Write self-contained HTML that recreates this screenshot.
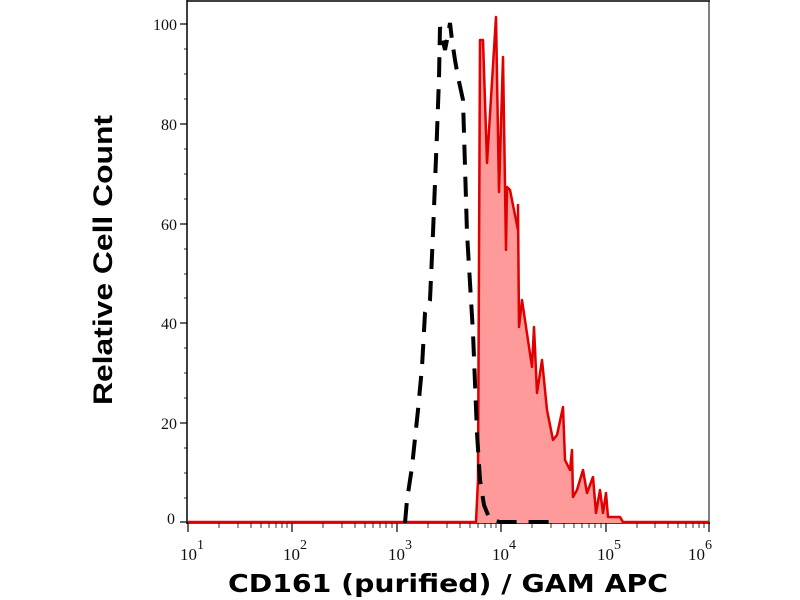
<!DOCTYPE html>
<html><head><meta charset="utf-8"><style>html,body{margin:0;padding:0;background:#fff;}svg{display:block}</style></head>
<body>
<svg width="800" height="600" viewBox="0 0 800 600" xmlns="http://www.w3.org/2000/svg">
<rect width="800" height="600" fill="#fff"/>
<line x1="187" y1="1" x2="710" y2="1" stroke="#000" stroke-width="1.5"/>
<line x1="709" y1="1" x2="709" y2="524" stroke="#000" stroke-width="1"/>
<line x1="187" y1="0" x2="187" y2="524" stroke="#000" stroke-width="1.5"/>
<line x1="187" y1="523" x2="710" y2="523" stroke="#000" stroke-width="1.5"/>
<g stroke="#000" stroke-width="1.2">
<line x1="180" y1="24" x2="187" y2="24"/><line x1="180" y1="124" x2="187" y2="124"/><line x1="180" y1="224" x2="187" y2="224"/><line x1="180" y1="323" x2="187" y2="323"/><line x1="180" y1="423" x2="187" y2="423"/><line x1="180" y1="522" x2="187" y2="522"/>
</g>
<g stroke="#000" stroke-width="0.8">
<line x1="184" y1="49" x2="187" y2="49"/><line x1="184" y1="74" x2="187" y2="74"/><line x1="184" y1="99" x2="187" y2="99"/>
<line x1="184" y1="149" x2="187" y2="149"/><line x1="184" y1="174" x2="187" y2="174"/><line x1="184" y1="199" x2="187" y2="199"/>
<line x1="184" y1="249" x2="187" y2="249"/><line x1="184" y1="274" x2="187" y2="274"/><line x1="184" y1="298" x2="187" y2="298"/>
<line x1="184" y1="348" x2="187" y2="348"/><line x1="184" y1="373" x2="187" y2="373"/><line x1="184" y1="398" x2="187" y2="398"/>
<line x1="184" y1="448" x2="187" y2="448"/><line x1="184" y1="473" x2="187" y2="473"/><line x1="184" y1="498" x2="187" y2="498"/>
</g>
<g font-family="Liberation Serif, serif" font-size="16" text-anchor="end" fill="#111">
<text x="177" y="30">100</text><text x="177" y="130">80</text><text x="177" y="230">60</text><text x="177" y="329">40</text><text x="177" y="429">20</text><text x="175" y="524">0</text>
</g>
<g stroke="#000" stroke-width="1.2">
<line x1="188" y1="523" x2="188" y2="532"/><line x1="292" y1="523" x2="292" y2="532"/><line x1="397" y1="523" x2="397" y2="532"/><line x1="501" y1="523" x2="501" y2="532"/><line x1="606" y1="523" x2="606" y2="532"/><line x1="709" y1="523" x2="709" y2="532"/>
</g>
<g font-family="Liberation Serif, serif" font-size="17" fill="#111">
<text x="180" y="560">10</text><text x="197" y="549" font-size="14">1</text>
<text x="283" y="560">10</text><text x="300" y="549" font-size="14">2</text>
<text x="388" y="560">10</text><text x="405" y="549" font-size="14">3</text>
<text x="492" y="560">10</text><text x="509" y="549" font-size="14">4</text>
<text x="597" y="560">10</text><text x="614" y="549" font-size="14">5</text>
<text x="688" y="560">10</text><text x="705" y="549" font-size="14">6</text>
</g>
<polygon fill="#ff9a9a" stroke="none" points="476,523 478,480 480,40 483,40 487,163 496,17 499,192 503,57 506,250 507,187 510,190 518,230 518,205 519,327 522,300 532,367 534,327 537,393 542,360 547,410 553,440 557,435 563,407 565,460 570,470 572,450 573,497 577,490 583,470 587,493 593,477 596,513 600,490 603,513 606,493 608,517 620,517 623,523"/>
<polyline fill="none" stroke="#e00000" stroke-width="2.5" stroke-linejoin="round" points="188,522 476,522 478,480 480,40 483,40 487,163 496,17 499,192 503,57 506,250 507,187 510,190 518,230 518,205 519,327 522,300 532,367 534,327 537,393 542,360 547,410 553,440 557,435 563,407 565,460 570,470 572,450 573,497 577,490 583,470 587,493 593,477 596,513 600,490 603,513 606,493 608,517 620,517 623,522 709,522"/>
<polyline fill="none" stroke="#000" stroke-width="4" stroke-dasharray="20,12" points="405,523 407,500 412,467 418,410 422,367 425,313 430,300 433,233 437,133 439,78 440,27 445,50 448,35 450,23 452,40 455,60 458,77 463,100 467,233 473,333 477,433 480,480 484,505 490,520 500,522 560,522"/>
<text x="448" y="592" text-anchor="middle" font-family="DejaVu Sans, Liberation Sans, sans-serif" font-weight="bold" font-size="25" textLength="440" lengthAdjust="spacingAndGlyphs" fill="#000">CD161 (purified) / GAM APC</text>
<text transform="translate(112,260) rotate(-90)" text-anchor="middle" font-family="Liberation Sans, sans-serif" font-weight="bold" font-size="27" textLength="290" lengthAdjust="spacingAndGlyphs" fill="#000">Relative Cell Count</text>
<g stroke="#000" stroke-width="0.8">
<line x1="219" y1="523" x2="219" y2="528"/><line x1="238" y1="523" x2="238" y2="528"/><line x1="251" y1="523" x2="251" y2="528"/><line x1="261" y1="523" x2="261" y2="528"/><line x1="269" y1="523" x2="269" y2="528"/><line x1="276" y1="523" x2="276" y2="528"/><line x1="282" y1="523" x2="282" y2="528"/><line x1="287" y1="523" x2="287" y2="528"/>
<line x1="323" y1="523" x2="323" y2="528"/><line x1="342" y1="523" x2="342" y2="528"/><line x1="355" y1="523" x2="355" y2="528"/><line x1="365" y1="523" x2="365" y2="528"/><line x1="373" y1="523" x2="373" y2="528"/><line x1="380" y1="523" x2="380" y2="528"/><line x1="386" y1="523" x2="386" y2="528"/><line x1="392" y1="523" x2="392" y2="528"/>
<line x1="428" y1="523" x2="428" y2="528"/><line x1="447" y1="523" x2="447" y2="528"/><line x1="460" y1="523" x2="460" y2="528"/><line x1="470" y1="523" x2="470" y2="528"/><line x1="478" y1="523" x2="478" y2="528"/><line x1="485" y1="523" x2="485" y2="528"/><line x1="491" y1="523" x2="491" y2="528"/><line x1="496" y1="523" x2="496" y2="528"/>
<line x1="532" y1="523" x2="532" y2="528"/><line x1="551" y1="523" x2="551" y2="528"/><line x1="564" y1="523" x2="564" y2="528"/><line x1="574" y1="523" x2="574" y2="528"/><line x1="582" y1="523" x2="582" y2="528"/><line x1="589" y1="523" x2="589" y2="528"/><line x1="595" y1="523" x2="595" y2="528"/><line x1="601" y1="523" x2="601" y2="528"/>
<line x1="637" y1="523" x2="637" y2="528"/><line x1="655" y1="523" x2="655" y2="528"/><line x1="668" y1="523" x2="668" y2="528"/><line x1="678" y1="523" x2="678" y2="528"/><line x1="686" y1="523" x2="686" y2="528"/><line x1="693" y1="523" x2="693" y2="528"/><line x1="699" y1="523" x2="699" y2="528"/><line x1="704" y1="523" x2="704" y2="528"/>
</g>
</svg>
</body></html>
